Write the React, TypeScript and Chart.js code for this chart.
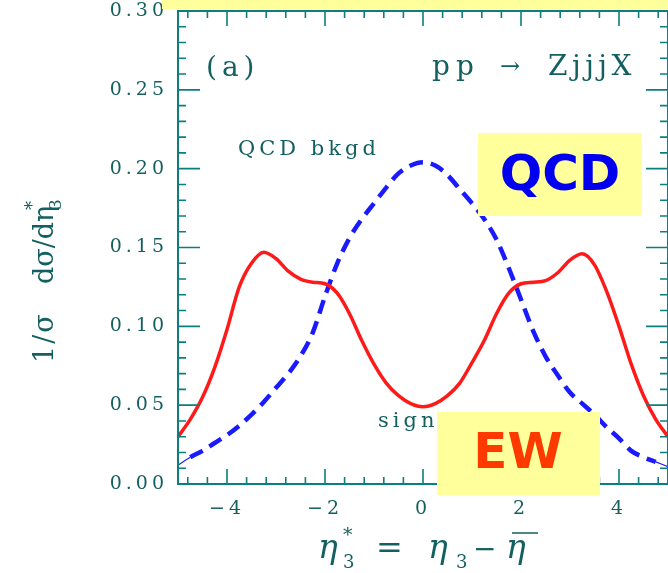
import React, { useEffect, useRef } from 'react';
import { Chart, registerables } from 'chart.js';

Chart.register(...registerables);

// ---- data ----
const etaStar = [-5, -4.75, -4.5, -4.25, -4, -3.75, -3.5, -3.25, -3, -2.75, -2.5, -2.25, -2, -1.75, -1.5, -1.25, -1, -0.75, -0.5, -0.25, 0, 0.25, 0.5, 0.75, 1, 1.25, 1.5, 1.75, 2, 2.25, 2.5, 2.75, 3, 3.25, 3.5, 3.75, 4, 4.25, 4.5, 4.75, 5];
const ewSignal = [0.030, 0.041, 0.055, 0.074, 0.098, 0.125, 0.140, 0.147, 0.143, 0.135, 0.130, 0.128, 0.127, 0.121, 0.108, 0.091, 0.076, 0.064, 0.056, 0.051, 0.049, 0.051, 0.056, 0.064, 0.077, 0.091, 0.108, 0.121, 0.127, 0.128, 0.129, 0.134, 0.142, 0.146, 0.139, 0.122, 0.100, 0.076, 0.056, 0.041, 0.030];
const qcdBkgd = [0.012, 0.017, 0.021, 0.026, 0.031, 0.037, 0.044, 0.052, 0.061, 0.070, 0.081, 0.096, 0.119, 0.140, 0.156, 0.168, 0.178, 0.188, 0.197, 0.202, 0.204, 0.202, 0.196, 0.187, 0.178, 0.168, 0.155, 0.137, 0.117, 0.097, 0.081, 0.069, 0.058, 0.051, 0.044, 0.036, 0.029, 0.021, 0.017, 0.014, 0.011];
const xTickValues = [-4, -2, 0, 2, 4];
const yTickValues = [0, 0.05, 0.1, 0.15, 0.2, 0.25, 0.3];

const AXIS = '#0b7f7f';
const TEXT = '#145f5f';
const SERIF = '"DejaVu Serif", serif';
const YELLOW = '#ffff9c';

function txt(ctx: CanvasRenderingContext2D, s: string, x: number, y: number, font: string, ls = 0, color = TEXT) {
  ctx.font = font;
  (ctx as any).letterSpacing = ls + 'px';
  ctx.fillStyle = color;
  ctx.textAlign = 'left';
  ctx.textBaseline = 'alphabetic';
  ctx.fillText(s, x, y);
}

const framePlugin = {
  id: 'framePlugin',
  beforeDraw(chart: any) {
    (chart.ctx as any).letterSpacing = '4px';
  },
  afterDraw(chart: any) {
    const ctx: CanvasRenderingContext2D = chart.ctx;
    const { left, right, top, bottom } = chart.chartArea;
    const xs = chart.scales.x;
    const ys = chart.scales.y;
    ctx.save();
    (ctx as any).letterSpacing = '0px';
    // inward ticks on all four sides
    ctx.strokeStyle = AXIS;
    ctx.lineWidth = 1.6;
    ctx.beginPath();
    for (let k = -12; k <= 12; k++) {
      const px = xs.getPixelForValue(k * 0.4);
      const len = k % 5 === 0 ? 15 : 7;
      ctx.moveTo(px, bottom); ctx.lineTo(px, bottom - len);
      ctx.moveTo(px, top); ctx.lineTo(px, top + len);
    }
    for (let k = 0; k <= 30; k++) {
      const py = ys.getPixelForValue(k * 0.01);
      const len = k % 5 === 0 ? 22 : 8;
      ctx.moveTo(left, py); ctx.lineTo(left + len, py);
      ctx.moveTo(right, py); ctx.lineTo(right - len, py);
    }
    ctx.stroke();
    ctx.lineWidth = 2;
    ctx.strokeRect(left, top, right - left, bottom - top);

    // annotations
    txt(ctx, '(a)', 206, 76, `28px ${SERIF}`, 5);
    txt(ctx, 'pp', 432, 75, `28px ${SERIF}`, 6);
    txt(ctx, '→', 500, 74, `24px ${SERIF}`, 0);
    txt(ctx, 'ZjjjX', 548, 75, `28px ${SERIF}`, 4.5);
    txt(ctx, 'QCD bkgd', 238, 155, `21px ${SERIF}`, 4);
    txt(ctx, 'signal', 378, 427, `21px ${SERIF}`, 4);

    // x title: η*3 = η3 − η̄
    const it = `italic 33px ${SERIF}`;
    txt(ctx, 'η', 318, 558, it);
    txt(ctx, '*', 343, 541, `19px ${SERIF}`);
    txt(ctx, '3', 343, 568, `18px ${SERIF}`);
    txt(ctx, '=', 376, 558, `32px ${SERIF}`);
    txt(ctx, 'η', 428, 558, it);
    txt(ctx, '3', 456, 568, `18px ${SERIF}`);
    txt(ctx, '−', 473, 558, `28px ${SERIF}`);
    txt(ctx, 'η', 506, 558, it);
    ctx.strokeStyle = TEXT;
    ctx.lineWidth = 1.5;
    ctx.beginPath();
    ctx.moveTo(512, 533); ctx.lineTo(538, 533);
    ctx.stroke();

    // y title (rotated): 1/σ  dσ/dη*3
    ctx.save();
    ctx.translate(53, 272);
    ctx.rotate(-Math.PI / 2);
    txt(ctx, '1/σ', -91, 0, `27px ${SERIF}`, 2);
    txt(ctx, 'dσ/dη', -12, 0, `27px ${SERIF}`, 0);
    txt(ctx, '*', 62, -15, `18px ${SERIF}`);
    txt(ctx, '3', 62, 8, `17px ${SERIF}`);
    ctx.restore();

    // yellow labels
    ctx.fillStyle = YELLOW;
    ctx.fillRect(162, 0, 506, 9);
    ctx.fillRect(478, 133, 164, 83);
    ctx.fillRect(437, 412, 163, 83);
    ctx.textAlign = 'center';
    ctx.textBaseline = 'middle';
    (ctx as any).letterSpacing = '0px';
    ctx.font = `bold 50px "DejaVu Sans", sans-serif`;
    ctx.fillStyle = '#0000ee';
    ctx.fillText('QCD', 560, 177);
    ctx.fillStyle = '#ff3a00';
    ctx.fillText('EW', 518, 455);
    ctx.restore();
  },
};

export default function App() {
  const ref = useRef<HTMLCanvasElement | null>(null);
  useEffect(() => {
    if (!ref.current) return;
    const chart = new Chart(ref.current, {
      type: 'line',
      data: {
        datasets: [
          {
            label: 'EW signal',
            data: etaStar.map((x, i) => ({ x, y: ewSignal[i] })),
            borderColor: '#ff1a1a',
            borderWidth: 3.5,
            pointRadius: 0,
            cubicInterpolationMode: 'monotone',
            fill: false,
          },
          {
            label: 'QCD bkgd',
            data: etaStar.map((x, i) => ({ x, y: qcdBkgd[i] })),
            borderColor: '#1a1aff',
            borderWidth: 4.5,
            borderDash: [14, 8],
            pointRadius: 0,
            cubicInterpolationMode: 'monotone',
            fill: false,
            segment: {
              borderWidth: (c: any) => (c.p0DataIndex === 0 || c.p1DataIndex === etaStar.length - 1 ? 1.2 : undefined),
              borderDash: (c: any) => (c.p0DataIndex === 0 || c.p1DataIndex === etaStar.length - 1 ? [] : undefined),
            },
          },
        ],
      } as any,
      options: {
        responsive: false,
        animation: false,
        devicePixelRatio: 1,
        layout: { padding: { top: 11, right: 0, bottom: 0, left: 0 } },
        plugins: { legend: { display: false }, tooltip: { enabled: false } },
        scales: {
          x: {
            type: 'linear',
            min: -5,
            max: 5,
            grid: { display: false, drawTicks: false },
            border: { display: false },
            afterBuildTicks: (s: any) => { s.ticks = xTickValues.map((v) => ({ value: v })); },
            afterFit: (s: any) => { s.height = 89; s.paddingLeft = 0; s.paddingRight = 0; },
            ticks: {
              padding: 14,
              color: TEXT,
              font: { family: '"DejaVu Serif", serif', size: 19 },
              callback: (v: any) => (v < 0 ? '−' + Math.abs(v) : String(v)),
            },
          },
          y: {
            type: 'linear',
            min: 0,
            max: 0.3,
            grid: { display: false, drawTicks: false },
            border: { display: false },
            afterBuildTicks: (s: any) => { s.ticks = yTickValues.map((v) => ({ value: v })); },
            afterFit: (s: any) => { s.width = 178; s.paddingTop = 0; s.paddingBottom = 0; },
            ticks: {
              padding: 10,
              color: TEXT,
              font: { family: '"DejaVu Serif", serif', size: 19 },
              callback: (v: any) => Number(v).toFixed(2),
            },
          },
        },
      } as any,
      plugins: [framePlugin],
    });
    return () => chart.destroy();
  }, []);
  return (
    <div style={{ position: 'absolute', left: 0, top: 0, width: 668, height: 573, background: '#fff' }}>
      <canvas ref={ref} width={668} height={573} />
    </div>
  );
}
